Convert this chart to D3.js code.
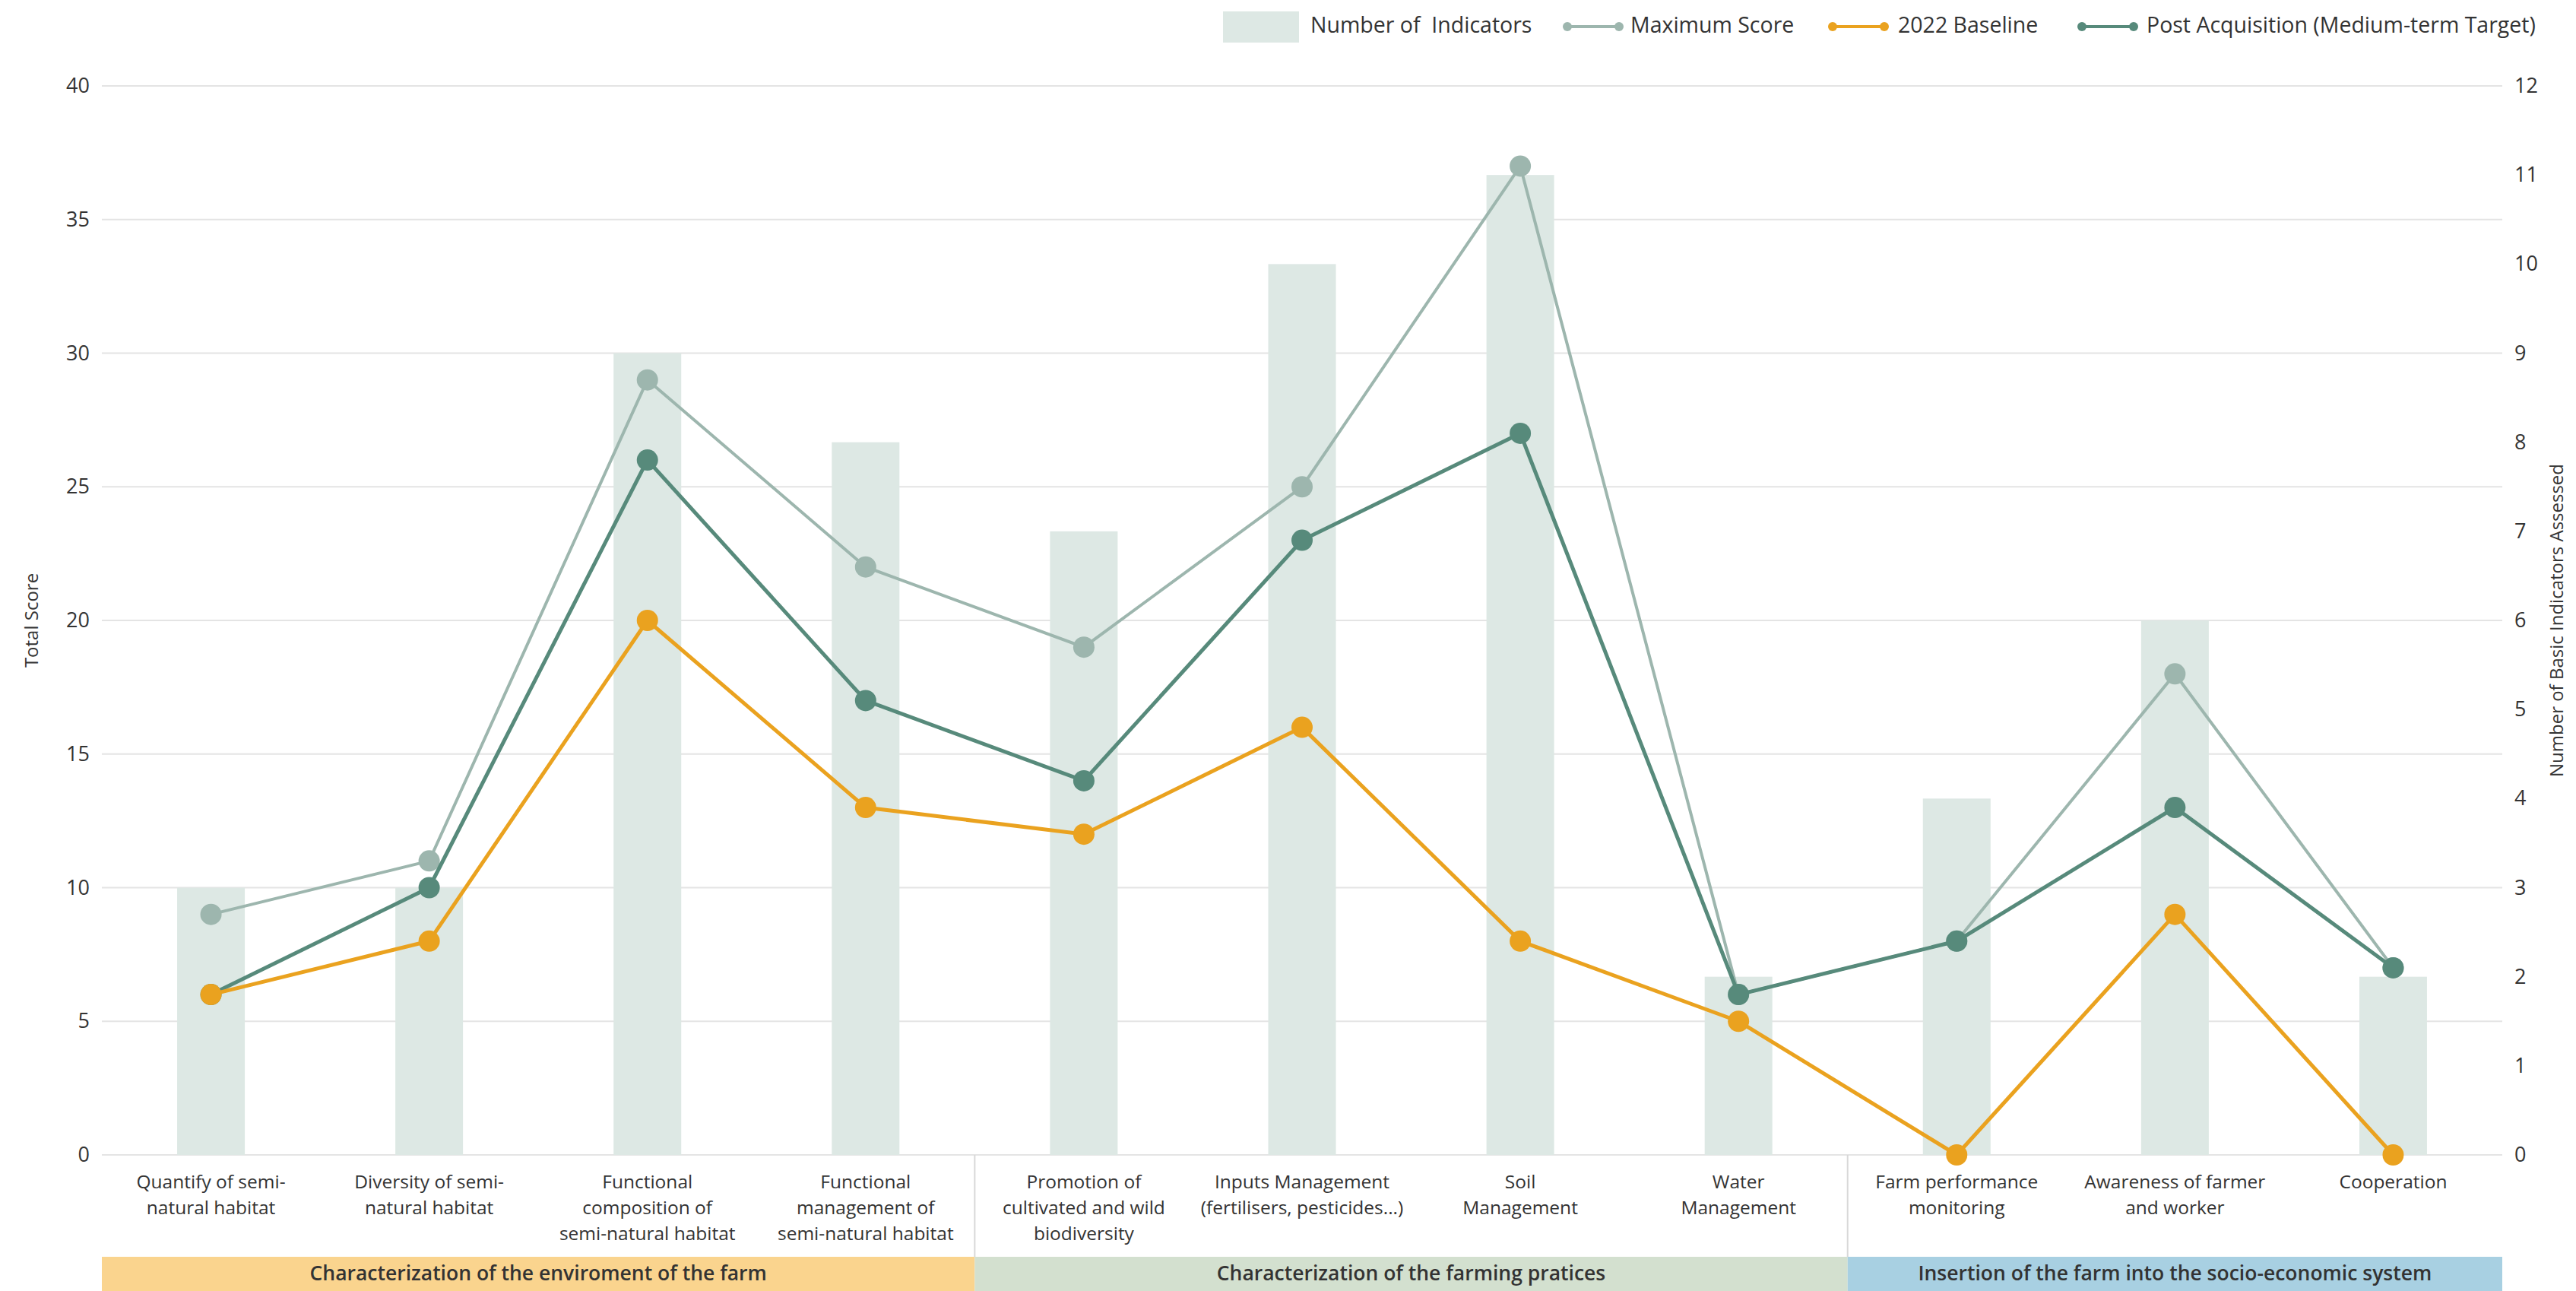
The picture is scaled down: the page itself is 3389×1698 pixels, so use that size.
<!DOCTYPE html>
<html>
<head>
<meta charset="utf-8">
<script src="https://cdn.jsdelivr.net/npm/d3@7"></script>
<style>
  body { margin: 0; background: #fff; }
  text { font-family: "Open Sans", "Lato", sans-serif; fill: #333; }
</style>
</head>
<body>
<div id="canvas"></div>
<script>
const categories = [
	"Quantify of semi-\nnatural habitat",
	"Diversity of semi-\nnatural habitat",
	"Functional\ncomposition of\nsemi-natural habitat",
	"Functional\nmanagement of\nsemi-natural habitat",
	"Promotion of\ncultivated and wild\nbiodiversity",
	"Inputs Management\n(fertilisers, pesticides...)",
	"Soil\nManagement",
	"Water\nManagement",
	"Farm performance\nmonitoring",
	"Awareness of farmer\nand worker",
	"Cooperation"
];
const indicators = [3, 3, 9, 8, 7, 10, 11, 2, 4, 6, 2];
const maxScore = [9, 11, 29, 22, 19, 25, 37, 6, 8, 18, 7];
const baseline = [6, 8, 20, 13, 12, 16, 8, 5, 0, 9, 0];
const postAcq = [6, 10, 26, 17, 14, 23, 27, 6, 8, 13, 7];
const groupNames = [
	"Characterization of the enviroment of the farm",
	"Characterization of the farming pratices",
	"Insertion of the farm into the socio-economic system"
];
const groupSizes = [4, 4, 3];
const leftTicks = [0, 5, 10, 15, 20, 25, 30, 35, 40];
const rightTicks = [0, 1, 2, 3, 4, 5, 6, 7, 8, 9, 10, 11, 12];

const width = 3389;
const height = 1698;
const margin = { top: 113, left: 134, bottom: 179, right: 97 };
const iwidth = width - margin.left - margin.right;
const iheight = height - margin.top - margin.bottom;

const colors = {
	bar: "#dde8e4",
	max: "#9db6ae",
	base: "#eaa21f",
	post: "#578a7b",
	grid: "#e4e4e4",
	bands: ["#fad48e", "#d3e0cf", "#a8d0e2"]
};

const svg = d3.select("#canvas").append("svg")
	.attr("width", width)
	.attr("height", height);

const g = svg.append("g")
	.attr("transform", `translate(${margin.left},${margin.top})`);

const x = d3.scaleBand().domain(categories).range([0, iwidth]).padding(0);
const y = d3.scaleLinear().domain([0, 40]).range([iheight, 0]);
const y2 = d3.scaleLinear().domain([0, 12]).range([iheight, 0]);
const barW = x.bandwidth() * 0.31;

// gridlines
g.append("g")
	.selectAll("line")
	.data(leftTicks)
	.join("line")
	.attr("x1", 0)
	.attr("x2", iwidth)
	.attr("y1", (d) => y(d))
	.attr("y2", (d) => y(d))
	.attr("stroke", colors.grid)
	.attr("stroke-width", 2);

// bars
g.append("g")
	.selectAll("rect")
	.data(indicators)
	.join("rect")
	.attr("x", (d, i) => x(categories[i]) + x.bandwidth() / 2 - barW / 2)
	.attr("y", (d) => y2(d))
	.attr("width", barW)
	.attr("height", (d) => iheight - y2(d))
	.attr("fill", colors.bar);

// left axis
const yAxis = g.append("g")
	.call(d3.axisLeft(y).tickValues(leftTicks).tickSize(0).tickPadding(16));
yAxis.select(".domain").remove();
yAxis.selectAll("text")
	.style("font-size", "27px")
	.style("font-family", "'Open Sans', sans-serif")
	.attr("fill", "#444");

// right axis
const yAxis2 = g.append("g")
	.attr("transform", `translate(${iwidth},0)`)
	.call(d3.axisRight(y2).tickValues(rightTicks).tickSize(0).tickPadding(16));
yAxis2.select(".domain").remove();
yAxis2.selectAll("text")
	.style("font-size", "27px")
	.style("font-family", "'Open Sans', sans-serif")
	.attr("fill", "#444");

// axis titles
svg.append("text")
	.attr("transform", `translate(44,${margin.top + iheight / 2}) rotate(-90)`)
	.attr("text-anchor", "middle")
	.attr("dominant-baseline", "middle")
	.style("font-size", "24px")
	.text("Total Score");

svg.append("text")
	.attr("transform", `translate(3366,${margin.top + iheight / 2}) rotate(-90)`)
	.attr("text-anchor", "middle")
	.attr("dominant-baseline", "middle")
	.style("font-size", "24px")
	.text("Number of Basic Indicators Assessed");

// lines and markers
const series = [
	{ values: maxScore, color: colors.max, w: 4 },
	{ values: postAcq, color: colors.post, w: 5 },
	{ values: baseline, color: colors.base, w: 5 }
];
const line = d3.line()
	.x((d, i) => x(categories[i]) + x.bandwidth() / 2)
	.y((d) => y(d));

series.forEach((s) => {
	g.append("path")
		.datum(s.values)
		.attr("fill", "none")
		.attr("stroke", s.color)
		.attr("stroke-width", s.w)
		.attr("d", line);
	g.append("g")
		.selectAll("circle")
		.data(s.values)
		.join("circle")
		.attr("cx", (d, i) => x(categories[i]) + x.bandwidth() / 2)
		.attr("cy", (d) => y(d))
		.attr("r", 14)
		.attr("fill", s.color);
});

// x labels
const xl = g.append("g").attr("transform", `translate(0,${iheight})`);
categories.forEach((c, i) => {
	const t = xl.append("text")
		.attr("x", x(c) + x.bandwidth() / 2)
		.attr("y", 44)
		.attr("text-anchor", "middle")
		.style("font-size", "24.5px");
	c.split("\n").forEach((ln, k) => {
		t.append("tspan")
			.attr("x", x(c) + x.bandwidth() / 2)
			.attr("dy", k === 0 ? 0 : 34)
			.text(ln);
	});
});

// group bands
let start = 0;
groupNames.forEach((name, gi) => {
	const x0 = x(categories[start]);
	const last = categories[start + groupSizes[gi] - 1];
	const x1 = x(last) + x.bandwidth();
	g.append("rect")
		.attr("x", x0)
		.attr("y", iheight + 134)
		.attr("width", x1 - x0)
		.attr("height", 45)
		.attr("fill", colors.bands[gi]);
	g.append("text")
		.attr("x", (x0 + x1) / 2)
		.attr("y", iheight + 158)
		.attr("text-anchor", "middle")
		.attr("dominant-baseline", "middle")
		.style("font-size", "26.5px")
		.style("font-weight", "600")
		.attr("fill", "#2e2e2e")
		.text(name);
	if (gi > 0) {
		g.append("line")
			.attr("x1", x0).attr("x2", x0)
			.attr("y1", iheight).attr("y2", iheight + 134)
			.attr("stroke", "#d8d8d8")
			.attr("stroke-width", 2);
	}
	start += groupSizes[gi];
});

// legend
const legend = svg.append("g").attr("transform", "translate(0,35)");
legend.append("rect")
	.attr("x", 1609).attr("y", -20)
	.attr("width", 100).attr("height", 41)
	.attr("fill", colors.bar);
const legendItems = [
	{ label: "Number of  Indicators", x: 1724, color: null },
	{ label: "Maximum Score", x: 2145, color: colors.max, lx: 2062 },
	{ label: "2022 Baseline", x: 2497, color: colors.base, lx: 2411 },
	{ label: "Post Acquisition (Medium-term Target)", x: 2824, color: colors.post, lx: 2739 }
];
legendItems.forEach((it) => {
	if (it.color) {
		legend.append("line")
			.attr("x1", it.lx).attr("x2", it.lx + 68)
			.attr("y1", 0).attr("y2", 0)
			.attr("stroke", it.color)
			.attr("stroke-width", 4);
		[it.lx, it.lx + 68].forEach((cx) => {
			legend.append("circle")
				.attr("cx", cx).attr("cy", 0).attr("r", 6)
				.attr("fill", it.color);
		});
	}
	legend.append("text")
		.attr("x", it.x)
		.attr("y", 0)
		.attr("dominant-baseline", "middle")
		.style("font-size", "28.5px")
		.style("white-space", "pre")
		.text(it.label);
});
</script>
</body>
</html>
